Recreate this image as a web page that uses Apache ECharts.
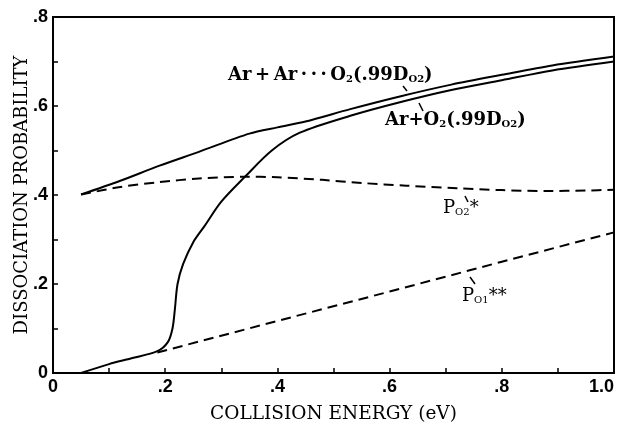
<!DOCTYPE html>
<html lang="en">
<head>
<meta charset="UTF-8">
<title>dissociation probability</title>
<style>
  html, body { margin: 0; padding: 0; background: #fff; }
  #main { width: 622px; height: 425px; }
</style>
</head>
<body>
<div id="main"></div>
<script src="https://cdn.jsdelivr.net/npm/echarts@6/dist/echarts.min.js"></script>
<script>
// Ar+Ar...O2 (.99 D) - upper solid curve
var arArX = [0.05, 0.12, 0.19, 0.26, 0.35, 0.40, 0.45, 0.53, 0.62, 0.71, 0.80, 0.89, 1.0];
var arArY = [0.401, 0.432, 0.466, 0.497, 0.538, 0.552, 0.565, 0.593, 0.622, 0.648, 0.670, 0.691, 0.711];

// Ar+O2 (.99 D) - lower solid curve with the sharp rise
var arO2X = [0.05, 0.10, 0.14, 0.186, 0.205, 0.213, 0.217, 0.222, 0.232, 0.25, 0.27, 0.30, 0.343, 0.39, 0.44, 0.53, 0.62, 0.71, 0.80, 0.89, 1.0];
var arO2Y = [0.0, 0.02, 0.033, 0.049, 0.07, 0.10, 0.14, 0.20, 0.245, 0.294, 0.33, 0.385, 0.442, 0.50, 0.54, 0.578, 0.609, 0.636, 0.658, 0.680, 0.700];

// P_O2* dashed
var pO2X = [0.05, 0.12, 0.19, 0.26, 0.34, 0.40, 0.48, 0.55, 0.63, 0.72, 0.80, 0.88, 0.95, 1.0];
var pO2Y = [0.401, 0.418, 0.429, 0.437, 0.441, 0.440, 0.434, 0.427, 0.421, 0.415, 0.411, 0.409, 0.410, 0.412];

// P_O1** dashed
var pO1X = [0.186, 0.4, 0.6, 0.8, 1.0];
var pO1Y = [0.046, 0.117, 0.183, 0.250, 0.316];

var xTicks = ['0', '.2', '.4', '.6', '.8', '1.0'];
var yTicks = ['0', '.2', '.4', '.6', '.8'];

function zip(xs, ys) {
    return xs.map(function (x, i) { return [x, ys[i]]; });
}
function tickLabel(list) {
    return function (v) {
        var k = Math.round(v * 10);
        if (k % 2 !== 0) return '';
        return list[k / 2];
    };
}

var serif = '"DejaVu Serif", "Liberation Serif", serif';

function label(x, y, text, weight) {
    return {
        type: 'text',
        left: x,
        top: y,
        style: {
            text: text,
            fill: '#000',
            font: weight + ' 18px ' + serif,
            rich: {
                s: { fontSize: 10, fontFamily: serif, fontWeight: weight, padding: [9, 0, 0, 0], color: '#000' },
                m: { fontSize: 18, fontFamily: serif, fontWeight: weight, color: '#000' }
            }
        }
    };
}
function leader(x1, y1, x2, y2) {
    return {
        type: 'line',
        shape: { x1: x1, y1: y1, x2: x2, y2: y2 },
        style: { stroke: '#000', lineWidth: 1.5 }
    };
}

var chart = echarts.init(document.getElementById('main'));
var option = {
    backgroundColor: '#fff',
    animation: false,
    grid: {
        left: 53, right: 8, top: 17, bottom: 52,
        outerBoundsMode: 'none',
        show: true, borderColor: '#000', borderWidth: 2
    },
    xAxis: {
        type: 'value', min: 0, max: 1, interval: 0.1,
        name: 'COLLISION ENERGY (eV)',
        nameLocation: 'middle', nameGap: 32, nameMoveOverlap: false,
        nameTextStyle: { fontFamily: serif, fontSize: 18.5, color: '#000' },
        axisLine: { lineStyle: { color: '#000', width: 2 } },
        axisTick: { inside: true, length: 5, lineStyle: { color: '#000', width: 1.5 } },
        axisLabel: {
            formatter: tickLabel(xTicks), margin: 5, alignMaxLabel: 'right',
            fontFamily: '"Liberation Sans", Arial, sans-serif', fontWeight: 'bold', fontSize: 18, color: '#000'
        },
        splitLine: { show: false }
    },
    yAxis: {
        type: 'value', min: 0, max: 0.8, interval: 0.1,
        name: 'DISSOCIATION PROBABILITY',
        nameLocation: 'middle', nameGap: 22, nameMoveOverlap: false,
        nameTextStyle: { fontFamily: serif, fontSize: 18, color: '#000' },
        axisLine: { lineStyle: { color: '#000', width: 2 } },
        axisTick: { inside: true, length: 5, lineStyle: { color: '#000', width: 1.5 } },
        axisLabel: {
            formatter: tickLabel(yTicks), margin: 5,
            fontFamily: '"Liberation Sans", Arial, sans-serif', fontWeight: 'bold', fontSize: 18, color: '#000'
        },
        splitLine: { show: false }
    },
    series: [
        {
            type: 'line', data: zip(arArX, arArY), smooth: 0.3, showSymbol: false,
            lineStyle: { color: '#000', width: 2 }
        },
        {
            type: 'line', data: zip(arO2X, arO2Y), smooth: 0.3, showSymbol: false,
            lineStyle: { color: '#000', width: 2 }
        },
        {
            type: 'line', data: zip(pO2X, pO2Y), smooth: 0.3, showSymbol: false,
            lineStyle: { color: '#000', width: 2, type: [10, 6] }
        },
        {
            type: 'line', data: zip(pO1X, pO1Y), smooth: false, showSymbol: false,
            lineStyle: { color: '#000', width: 2, type: [10, 6] }
        }
    ],
    graphic: [
        label(228, 66, '{m|Ar\u2009+\u2009Ar\u2009·\u2009·\u2009·\u2009O}{s|2}{m|(.99D}{s|O2}{m|)}', 'bold'),
        label(385, 111, '{m|Ar+O}{s|2}{m|(.99D}{s|O2}{m|)}', 'bold'),
        label(443, 199, '{m|P}{s|O2}{m|*}', 'normal'),
        label(462, 287, '{m|P}{s|O1}{m|**}', 'normal'),
        leader(403, 86, 407, 91),
        leader(419, 103, 423, 111),
        leader(465, 196, 468, 202),
        leader(470, 277, 475, 284)
    ]
};
chart.setOption(option);
</script>
</body>
</html>
